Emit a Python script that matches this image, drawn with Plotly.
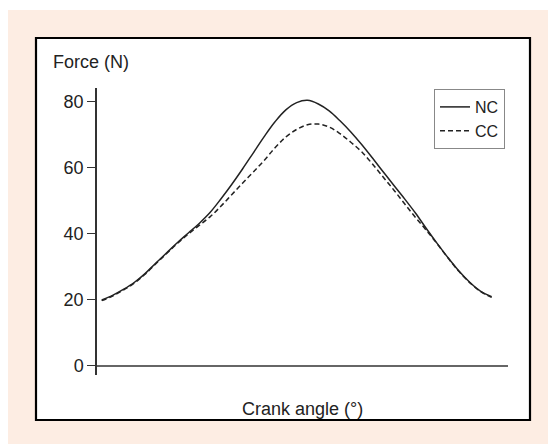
import plotly.graph_objects as go

# Crank angle (degrees)
angle = [0, 10, 20, 30, 40, 50, 60, 70, 80, 90, 100, 110, 120, 130, 140, 150, 160, 170, 180,
         190, 200, 210, 220, 230, 240, 250, 260, 270, 280, 290, 300, 310, 320, 330, 340, 350, 360]
# Force (N)
nc_force = [20.0, 21.4, 23.2, 25.3, 28.0, 31.2, 34.3, 37.4, 40.3, 43.2, 46.5, 50.6, 55.0, 59.7, 64.6, 69.5, 74.0, 77.6, 79.8,
            80.5, 79.4, 77.3, 74.3, 70.9, 67.1, 63.0, 58.8, 54.6, 50.5, 46.2, 41.5, 37.0, 32.7, 28.7, 25.3, 22.6, 21.0]
cc_force = [19.8, 21.2, 23.0, 25.1, 27.8, 31.0, 34.1, 37.2, 40.0, 42.6, 45.2, 48.4, 51.9, 55.4, 58.8, 62.3, 66.1, 69.4, 71.7,
            73.1, 73.3, 72.4, 70.4, 67.8, 64.9, 61.2, 57.2, 53.2, 49.0, 44.9, 41.0, 36.9, 32.6, 28.6, 25.2, 22.5, 20.8]
y_ticks = [0, 20, 40, 60, 80]

FONT = "Liberation Sans, Arial, Helvetica, sans-serif"
INK = "#222222"

OFF = 8  # page body margin
W, H = 556 - OFF, 444 - OFF
L, R, T, B = 97 - OFF, 508 - OFF, 88 - OFF, 375 - OFF  # plot area in figure pixels


def px(xp):
    return (xp - OFF - L) / (R - L)


def py(yp):
    return (B - (yp - OFF)) / (B - T)


fig = go.Figure()
fig.add_trace(go.Scatter(x=angle, y=nc_force, name="NC", mode="lines",
                         line=dict(color=INK, width=1.5, shape="spline", smoothing=1)))
fig.add_trace(go.Scatter(x=angle, y=cc_force, name="CC", mode="lines",
                         line=dict(color=INK, width=1.5, dash="5px,3px", shape="spline", smoothing=1)))

fig.update_layout(
    width=W, height=H,
    margin=dict(l=L, r=W - R, t=T, b=H - B, pad=0),
    paper_bgcolor="white", plot_bgcolor="rgba(0,0,0,0)",
    font=dict(family=FONT, color=INK, size=18),
    showlegend=True,
    legend=dict(x=px(505), y=py(89), xanchor="right", yanchor="top",
                bgcolor="white", bordercolor="#888888", borderwidth=1,
                font=dict(size=16, family=FONT, color=INK),
                tracegroupgap=0, itemwidth=30),
    xaxis=dict(range=[-4.34, 375.1], showgrid=False, showticklabels=False, ticks="",
               showline=False, zeroline=False, fixedrange=True),
    yaxis=dict(range=[-2.73, 84.24], showgrid=False, tickvals=y_ticks,
               ticks="outside", ticklen=8, tickwidth=1.3, tickcolor="#333333",
               showline=True, linecolor="#333333", linewidth=1.5,
               zeroline=True, zerolinecolor="#666666", zerolinewidth=1.8,
               tickfont=dict(size=18, family=FONT, color=INK), fixedrange=True),
    shapes=[
        dict(type="rect", xref="paper", yref="paper", x0=px(7), x1=px(556), y0=py(444), y1=py(10),
             fillcolor="#FDEDE3", line=dict(width=0), layer="below"),
        dict(type="rect", xref="paper", yref="paper", x0=px(36), x1=px(530), y0=py(420), y1=py(38),
             fillcolor="white", line=dict(color="black", width=2.2), layer="below"),
    ],
    annotations=[
        dict(text="Force (N)", xref="paper", yref="paper", x=px(51), y=py(62),
             xanchor="left", yanchor="middle", showarrow=False,
             font=dict(size=18, family=FONT, color=INK)),
        dict(text="Crank angle (°)", xref="paper", yref="paper", x=px(302), y=py(409),
             xanchor="center", yanchor="middle", showarrow=False,
             font=dict(size=18, family=FONT, color=INK)),
    ],
)

fig.write_html("out.html")
